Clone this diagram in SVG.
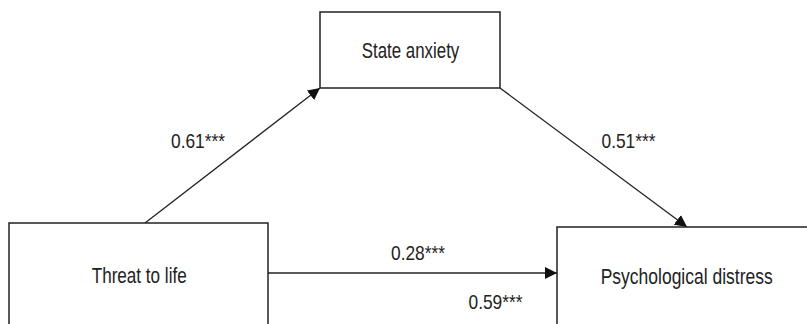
<svg xmlns="http://www.w3.org/2000/svg" width="807" height="324" viewBox="0 0 807 324">
<style>
.box{fill:#fff;stroke:#222;stroke-width:1.5}
.edge{stroke:#222;stroke-width:1.3;fill:none}
.lbl{font-family:"Liberation Sans",Arial,sans-serif;font-size:22px;fill:#222;text-anchor:middle}
.num{font-family:"Liberation Sans",Arial,sans-serif;font-size:21px;fill:#222}
</style>
<defs>
<marker id="ah" viewBox="0 0 12 12" refX="12" refY="6" markerWidth="12" markerHeight="12" markerUnits="userSpaceOnUse" orient="auto">
<path d="M0,0 L12,6 L0,12 Z" fill="#111"/>
</marker>
</defs>
<rect width="807" height="324" fill="#fff"/>
<g id="connectors">
<line class="edge" x1="145" y1="223" x2="320" y2="88" marker-end="url(#ah)"/>
<line class="edge" x1="500" y1="88" x2="687" y2="227" marker-end="url(#ah)"/>
<line class="edge" x1="268" y1="273" x2="557" y2="273" marker-end="url(#ah)"/>
<text class="num" x="171" y="148" textLength="54" lengthAdjust="spacingAndGlyphs">0.61***</text>
<text class="num" x="601.5" y="148" textLength="54" lengthAdjust="spacingAndGlyphs">0.51***</text>
<text class="num" x="391" y="259.5" textLength="54" lengthAdjust="spacingAndGlyphs">0.28***</text>
<text class="num" x="468.5" y="309" textLength="54" lengthAdjust="spacingAndGlyphs">0.59***</text>
</g>
<g id="state-anxiety">
<rect class="box" x="320" y="12" width="180" height="76"/>
<text class="lbl" x="410.5" y="58" textLength="97.5" lengthAdjust="spacingAndGlyphs">State anxiety</text>
</g>
<g id="threat-to-life">
<rect class="box" x="9" y="223" width="259" height="102"/>
<text class="lbl" x="139.2" y="282.5" textLength="95" lengthAdjust="spacingAndGlyphs">Threat to life</text>
</g>
<g id="psychological-distress">
<rect class="box" x="557" y="227" width="251" height="98"/>
<text class="lbl" x="686.7" y="284" textLength="172" lengthAdjust="spacingAndGlyphs">Psychological distress</text>
</g>
</svg>
